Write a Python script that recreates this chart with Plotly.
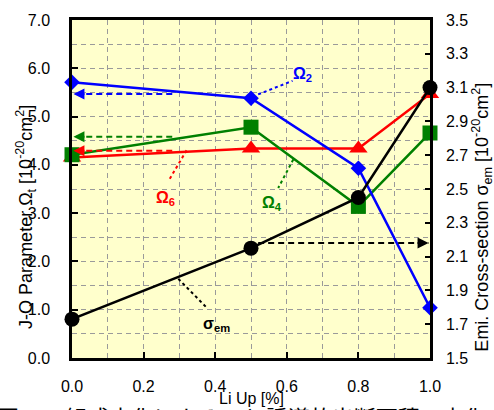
import plotly.graph_objects as go

# Li content (x) for every series
li_up = [0.0, 0.5, 0.8, 1.0]

# Judd-Ofelt parameters [1e-20 cm^2] (left axis)
omega2 = [5.71, 5.38, 3.93, 1.04]
omega4 = [4.21, 4.78, 3.14, 4.66]
omega6 = [4.15, 4.34, 4.34, 5.47]

# Emission cross-section [1e-20 cm^2] (right axis)
sigma_em = [1.73, 2.15, 2.45, 3.10]

# Reference levels marked with dashed arrows
omega2_ref = 5.47
omega4_ref = 4.58
omega6_ref = 4.29
sigma_ref = 2.18

# Tick values
x_ticks = [0.0, 0.2, 0.4, 0.6, 0.8, 1.0]
y_left_ticks = [0, 1, 2, 3, 4, 5, 6, 7]
y_right_ticks = [1.5, 1.7, 1.9, 2.1, 2.3, 2.5, 2.7, 2.9, 3.1, 3.3, 3.5]

FONT = "Arial, Liberation Sans, sans-serif"
BLUE, GREEN, RED, BLACK = "#0000FF", "#008000", "#FF0000", "#000000"
GRID = "#9a9a9a"

fig = go.Figure()

fig.add_trace(go.Scatter(
    x=li_up, y=omega6, mode="lines+markers", cliponaxis=False,
    line=dict(color=RED, width=2.5),
    marker=dict(symbol="triangle-up", size=16, color=RED)))
fig.add_trace(go.Scatter(
    x=li_up, y=omega4, mode="lines+markers", cliponaxis=False,
    line=dict(color=GREEN, width=2.5),
    marker=dict(symbol="square", size=15, color=GREEN)))
fig.add_trace(go.Scatter(
    x=li_up, y=omega2, mode="lines+markers", cliponaxis=False,
    line=dict(color=BLUE, width=2.5),
    marker=dict(symbol="diamond", size=12, color=BLUE)))
fig.add_trace(go.Scatter(
    x=li_up, y=sigma_em, mode="lines+markers", cliponaxis=False, yaxis="y2",
    line=dict(color=BLACK, width=2.5),
    marker=dict(symbol="circle", size=15, color=BLACK)))

shapes = []
annotations = []

# dashed reference arrows pointing at the axes
def dashed_arrow(x0, x1, y, color, yref="y"):
    shapes.append(dict(type="line", xref="x", yref=yref, x0=x0, x1=x1, y0=y, y1=y,
                       line=dict(color=color, width=2, dash="6px,4px"), layer="above"))
    step = 0.035 if x1 > x0 else -0.035
    annotations.append(dict(x=x1, y=y, xref="x", yref=yref, ax=x1 - step, ay=y,
                            axref="x", ayref=yref, text="", showarrow=True,
                            arrowhead=2, arrowsize=1.1, arrowwidth=2, arrowcolor=color))

dashed_arrow(0.28, 0.004, omega2_ref, BLUE)
dashed_arrow(0.28, 0.004, omega4_ref, GREEN)
dashed_arrow(0.28, 0.004, omega6_ref, RED)
dashed_arrow(0.52, 0.996, sigma_ref, BLACK, yref="y2")

# dotted leader lines and series labels
def leader(x0, y0, x1, y1, color):
    shapes.append(dict(type="line", xref="x", yref="y", x0=x0, y0=y0, x1=x1, y1=y1,
                       line=dict(color=color, width=2, dash="dot"), layer="above"))

leader(0.52, 5.46, 0.616, 5.74, BLUE)
leader(0.32, 4.30, 0.269, 3.66, RED)
leader(0.618, 4.11, 0.576, 3.52, GREEN)
leader(0.297, 1.64, 0.378, 1.03, BLACK)

def label(x, y, text, color):
    annotations.append(dict(x=x, y=y, xref="x", yref="y", text=text, showarrow=False,
                            xanchor="center", yanchor="middle",
                            font=dict(family=FONT, size=16, color=color)))

label(0.643, 5.87, "<b>Ω<sub>2</sub></b>", BLUE)
label(0.26, 3.31, "<b>Ω<sub>6</sub></b>", RED)
label(0.56, 3.21, "<b>Ω<sub>4</sub></b>", GREEN)
label(0.403, 0.70, "<b>σ<sub>em</sub></b>", BLACK)

# axis titles
annotations.append(dict(x=-0.128, y=0.418, xref="paper", yref="paper", textangle=-90,
                        xanchor="center", yanchor="middle",
                        text="J-O Parameter Ω<sub>t</sub> [10<sup>-20</sup>cm<sup>2</sup>]",
                        showarrow=False, font=dict(family=FONT, size=18, color=BLACK)))
annotations.append(dict(x=1.145, y=0.418, xref="paper", yref="paper", textangle=-90,
                        xanchor="center", yanchor="middle",
                        text="Emi. Cross-section σ<sub>em</sub> [10<sup>-20</sup>cm<sup>2</sup>]",
                        showarrow=False, font=dict(family=FONT, size=18, color=BLACK)))
annotations.append(dict(x=0.5, y=-0.12, xref="paper", yref="paper",
                        xanchor="center", yanchor="middle",
                        text="Li Up [%]", showarrow=False,
                        font=dict(family=FONT, size=16, color=BLACK)))

# figure caption below the chart
annotations.append(dict(x=-0.215, y=-0.119, xref="paper", yref="paper",
                        xanchor="left", yanchor="top",
                        text="図11　組成変化によるΩtと誘導放出断面積の変化",
                        showarrow=False,
                        font=dict(family="Noto Sans CJK JP", size=22, color=BLACK)))

fig.update_layout(
    width=494, height=410,
    margin=dict(l=72, r=64, t=14, b=52),
    paper_bgcolor="white", plot_bgcolor="#FFFFCC",
    showlegend=False,
    font=dict(family=FONT, size=16, color=BLACK),
    shapes=shapes, annotations=annotations,
    xaxis=dict(range=[0, 1.0], tickvals=x_ticks, tickformat=".1f",
               ticks="inside", ticklen=6, tickwidth=1.5, tickcolor=BLACK,
               ticklabelstandoff=12,
               showline=True, linecolor=BLACK, linewidth=2.5, mirror=True,
               showgrid=True, gridcolor=GRID, gridwidth=1, griddash="5px,4px",
               minor=dict(dtick=0.1, tick0=0, showgrid=True, gridcolor=GRID,
                          gridwidth=1, griddash="5px,4px"),
               zeroline=False),
    yaxis=dict(range=[0, 7], tickvals=y_left_ticks, tickformat=".1f",
               ticks="inside", ticklen=6, tickwidth=1.5, tickcolor=BLACK,
               ticklabelstandoff=16,
               showline=True, linecolor=BLACK, linewidth=2.5,
               showgrid=True, gridcolor=GRID, gridwidth=1, griddash="5px,4px",
               minor=dict(dtick=0.5, tick0=0, showgrid=True, gridcolor=GRID,
                          gridwidth=1, griddash="5px,4px"),
               zeroline=False),
    yaxis2=dict(range=[1.5, 3.5], tickvals=y_right_ticks, tickformat=".1f",
                overlaying="y", side="right",
                ticks="inside", ticklen=5, tickwidth=1.5, tickcolor=BLACK,
                ticklabelstandoff=10,
                showline=True, linecolor=BLACK, linewidth=2.5,
                showgrid=False, zeroline=False),
)

fig.write_html("out.html")
